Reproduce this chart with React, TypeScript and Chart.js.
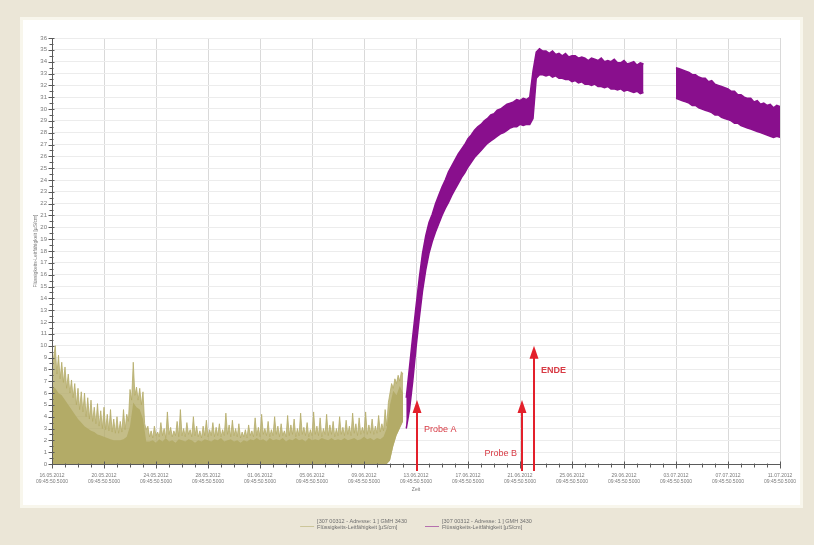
import React, { useEffect, useRef } from 'react';
import { Chart, registerables } from 'chart.js';

Chart.register(...registerables);

// ---- data -------------------------------------------------------------

// Major tick dates on the time axis (every 4 days, day 0 = 16.05.2012)
const X_TICK_DATES = [
  '16.05.2012', '20.05.2012', '24.05.2012', '28.05.2012', '01.06.2012',
  '05.06.2012', '09.06.2012', '13.06.2012', '17.06.2012', '21.06.2012',
  '25.06.2012', '29.06.2012', '03.07.2012', '07.07.2012', '11.07.2012',
];
const X_TICK_TIME = '09:45:50.5000';
const X_MAX_DAY = 56;
const Y_MAX = 36;

// First probe (olive): peaks of the noisy signal, every 3 h from day 0 to 27
const OLIVE_START = 0;
const OLIVE_UPPER_STEP = 0.125;
const OLIVE_UPPER = [
  8.0, 9.0, 10.0, 7.6, 9.2, 7.2, 8.6, 6.9, 8.2, 6.4,
  7.6, 6.0, 7.1, 5.6, 6.8, 5.0, 6.4, 4.6, 6.1, 4.4,
  6.0, 4.0, 5.6, 3.8, 5.4, 3.6, 4.8, 3.4, 5.1, 3.2,
  4.5, 3.0, 4.8, 2.9, 4.2, 2.8, 4.6, 2.7, 3.8, 2.6,
  4.0, 2.6, 3.6, 2.7, 4.6, 2.9, 4.2, 3.6, 6.3, 5.4,
  8.6, 5.8, 6.5, 5.4, 6.4, 5.0, 6.1, 3.4, 2.9,
  3.2, 2.3, 2.8, 2.2, 3.2, 2.4, 2.7, 2.3, 3.5, 2.4,
  3.0, 2.2, 4.4, 2.5, 3.1, 2.3, 2.8, 2.4, 3.6, 2.3,
  4.6, 2.4, 3.0, 2.3, 3.5, 2.5, 2.9, 2.3, 4.0, 2.4,
  3.2, 2.3, 2.8, 2.2, 3.2, 2.4, 3.7, 2.3, 2.9, 2.4,
  3.5, 2.3, 3.1, 2.4, 3.4, 2.3, 2.9, 2.4, 4.3, 2.5,
  3.3, 2.3, 3.7, 2.4, 3.0, 2.3, 3.4, 2.2, 2.7, 2.3,
  2.9, 2.2, 3.3, 2.4, 2.8, 2.3, 3.9, 2.4, 3.1, 2.3,
  4.2, 2.5, 3.0, 2.4, 3.6, 2.3, 2.9, 2.4, 4.0, 2.5,
  3.2, 2.3, 3.4, 2.4, 2.8, 2.3, 4.1, 2.4, 3.3, 2.5,
  3.8, 2.3, 3.0, 2.4, 4.3, 2.5, 3.1, 2.4, 3.5, 2.3,
  2.9, 2.4, 4.4, 2.5, 3.2, 2.4, 3.9, 2.3, 3.0, 2.5,
  4.2, 2.4, 3.3, 2.5, 3.6, 2.3, 3.0, 2.4, 4.0, 2.5,
  3.1, 2.4, 3.7, 2.5, 3.2, 2.4, 4.3, 2.6, 3.4, 2.4,
  3.9, 2.5, 3.1, 2.6, 4.4, 2.5, 3.3, 2.6, 3.8, 2.5,
  3.2, 2.6, 4.1, 2.7, 3.4, 2.8, 4.6, 3.2, 5.2, 6.0,
  6.8, 6.4, 7.2, 6.8, 7.5, 7.0, 7.8, 7.6,
];
// Dense core of the same signal, every 6 h
const OLIVE_CORE_STEP = 0.25;
const OLIVE_CORE = [
  6.6, 6.4, 6.0, 5.8, 5.4, 5.0, 4.6, 4.2, 3.8, 3.5,
  3.2, 3.0, 2.8, 2.7, 2.5, 2.4, 2.3, 2.2, 2.1, 2.0,
  2.0, 2.0, 2.1, 2.3, 3.2, 5.2, 4.8, 4.6, 3.8, 1.9,
  1.9, 2.0, 1.8, 2.1, 1.9, 2.2, 1.9, 2.0, 1.8, 2.1,
  2.0, 1.9, 2.1, 2.0, 1.8, 2.0, 1.9, 2.1, 2.0, 1.9,
  2.1, 2.0, 2.2, 1.9, 2.0, 2.1, 1.9, 2.0, 1.8, 2.0,
  1.9, 2.1, 2.0, 2.2, 2.0, 2.1, 1.9, 2.2, 2.0, 2.1,
  2.0, 2.2, 1.9, 2.1, 2.0, 2.2, 2.0, 2.1, 1.9, 2.2,
  2.0, 2.1, 2.0, 2.2, 2.1, 2.0, 2.2, 2.0, 2.1, 2.0,
  2.2, 2.0, 2.1, 2.2, 2.0, 2.1, 2.3, 2.1, 2.2, 2.0,
  2.2, 2.1, 2.3, 3.0, 5.0, 6.2, 5.8, 6.6, 6.0,
];
// Lower envelope (only lifts off zero at the very end)
const OLIVE_LOWER_DAYS = [0, 25.75, 26.0, 26.25, 26.5, 26.75, 27.0];
const OLIVE_LOWER = [0, 0, 0.3, 1.5, 2.4, 3.0, 3.6];

// Second probe (purple): every 6 h from day 27.25 to 56, null = no readings
const PURPLE_START = 27.25;
const PURPLE_STEP = 0.25;
const PURPLE_UPPER = [
  5.6, 8.2, 10.8, 13.3, 15.7, 17.8, 19.3, 20.4, 21.1, 22.0,
  22.7, 23.4, 24.0, 24.7, 25.2, 25.7, 26.2, 26.6, 27.0, 27.5,
  27.8, 28.2, 28.5, 28.7, 29.0, 29.2, 29.5, 29.6, 29.9, 30.0,
  30.2, 30.4, 30.5, 30.6, 30.8, 30.7, 30.9, 30.8, 31.0, 33.2,
  34.8, 35.1, 34.9, 34.9, 34.7, 34.9, 34.6, 34.7, 34.5, 34.7,
  34.4, 34.5, 34.5, 34.3, 34.4, 34.3, 34.1, 34.3, 34.2, 34.1,
  34.3, 34.0, 34.1, 34.0, 34.2, 33.9, 33.9, 34.1, 33.8, 33.9,
  34.0, 33.7, 33.9, 33.8,
  null, null, null, null, null, null, null, null, null,
  33.5, 33.4, 33.3, 33.2, 33.1, 32.9, 32.9, 32.7, 32.6, 32.6,
  32.3, 32.4, 32.1, 32.0, 31.9, 31.8, 31.7, 31.5, 31.5, 31.2,
  31.2, 31.0, 30.9, 30.9, 30.6, 30.7, 30.4, 30.5, 30.3, 30.4,
  30.1, 30.3, 30.2,
];
const PURPLE_LOWER = [
  3.0, 4.6, 7.0, 9.8, 12.3, 14.6, 16.4, 17.8, 18.8, 19.6,
  20.3, 21.0, 21.6, 22.1, 22.7, 23.2, 23.7, 24.2, 24.6, 25.1,
  25.5, 25.9, 26.2, 26.5, 26.8, 27.1, 27.3, 27.5, 27.7, 27.9,
  28.0, 28.2, 28.4, 28.5, 28.5, 28.7, 28.6, 28.7, 28.7, 29.2,
  32.6, 32.9, 32.9, 32.8, 32.9, 32.7, 32.8, 32.6, 32.6, 32.5,
  32.5, 32.3, 32.4, 32.2, 32.3, 32.1, 32.1, 32.0, 32.1, 31.9,
  31.9, 31.8, 31.9, 31.7, 31.7, 31.6, 31.7, 31.5, 31.6, 31.5,
  31.4, 31.5, 31.3, 31.4,
  null, null, null, null, null, null, null, null, null,
  30.9, 30.8, 30.7, 30.6, 30.5, 30.3, 30.3, 30.1, 30.0, 29.9,
  29.8, 29.7, 29.5, 29.5, 29.3, 29.2, 29.1, 29.0, 28.8, 28.8,
  28.6, 28.5, 28.4, 28.3, 28.2, 28.1, 28.0, 27.9, 27.8, 27.7,
  27.6, 27.7, 27.6,
];

// Sampling events marked with arrows
const MARKER_LABELS = ['Probe A', 'Probe B', 'ENDE'];
const MARKER_DAYS = [28.1, 36.15, 37.05];
const MARKER_TIPS = [5.4, 5.4, 10.0];

const SERIES_NAMES = [
  '[307 00312 - Adresse: 1 ] GMH 3430',
  '[307 00312 - Adresse: 1 ] GMH 3430',
];
const SERIES_UNIT = 'Flüssigkeits-Leitfähigkeit [µS/cm]';

// ---- styling ----------------------------------------------------------

const FONT = '"Liberation Sans", Arial, sans-serif';
const OLIVE = '#b3ab67';
const OLIVE_LIGHT = 'rgba(179,171,103,0.78)';
const PURPLE = '#890f8d';
const RED = '#e3202b';
const AXIS = '#5a5a5a';
const TEXT = '#7a7a7a';
const SERIES_COLORS = [OLIVE, PURPLE];

// label placement for each arrow: side of the shaft and height (axis units)
const MARKER_LAYOUT = [
  { side: 'right', level: 2.9, bold: false },
  { side: 'left', level: 0.9, bold: false },
  { side: 'right', level: 7.9, bold: true },
];

const toPoints = (start: number, step: number, values: (number | null)[]) =>
  values.map((v, i) => ({ x: start + i * step, y: v }));

// ---- plugins ----------------------------------------------------------

const framePlugin = {
  id: 'frame',
  beforeDraw(chart: any) {
    const { ctx, width, height } = chart;
    ctx.save();
    ctx.fillStyle = '#ebe6d7';
    ctx.fillRect(0, 0, width, height);
    ctx.fillStyle = '#f8f6ec';
    ctx.fillRect(20, 17, 783, 491);
    ctx.fillStyle = '#ffffff';
    ctx.fillRect(23, 20, 777, 485);
    ctx.restore();
  },
};

const axesPlugin = {
  id: 'axesMarks',
  afterDatasetsDraw(chart: any) {
    const { ctx } = chart;
    const x = chart.scales.x;
    const y = chart.scales.y;
    ctx.save();
    ctx.strokeStyle = AXIS;
    ctx.lineWidth = 1;
    ctx.beginPath();
    const yb = Math.round(y.bottom) + 0.5;
    const xl = Math.round(x.left) + 0.5;
    ctx.moveTo(xl, Math.round(y.top));
    ctx.lineTo(xl, yb);
    ctx.lineTo(Math.round(x.right) + 1, yb);
    for (let d = 0; d <= X_MAX_DAY; d += 1) {
      const px = Math.round(x.getPixelForValue(d)) + 0.5;
      const major = d % 4 === 0;
      ctx.moveTo(px, yb - (major ? 3 : 1));
      ctx.lineTo(px, yb + (major ? 4 : 3));
    }
    for (let v = 0; v <= Y_MAX; v += 0.5) {
      const py = Math.round(y.getPixelForValue(v)) + 0.5;
      const major = v % 1 === 0;
      ctx.moveTo(xl - (major ? 4 : 3), py);
      ctx.lineTo(xl + (major ? 2 : 1), py);
    }
    ctx.stroke();
    ctx.restore();
  },
};

const markersPlugin = {
  id: 'markers',
  afterDatasetsDraw(chart: any) {
    const { ctx } = chart;
    const x = chart.scales.x;
    const y = chart.scales.y;
    ctx.save();
    MARKER_DAYS.forEach((day, i) => {
      const px = Math.round(x.getPixelForValue(day));
      const tip = y.getPixelForValue(MARKER_TIPS[i]);
      const base = y.bottom + 7;
      ctx.strokeStyle = RED;
      ctx.lineWidth = 2;
      ctx.beginPath();
      ctx.moveTo(px, base);
      ctx.lineTo(px, tip + 10);
      ctx.stroke();
      ctx.fillStyle = RED;
      ctx.beginPath();
      ctx.moveTo(px, tip);
      ctx.lineTo(px + 4.5, tip + 13);
      ctx.lineTo(px - 4.5, tip + 13);
      ctx.closePath();
      ctx.fill();
      const lay = MARKER_LAYOUT[i];
      ctx.fillStyle = '#d83a44';
      ctx.font = `${lay.bold ? 'bold ' : ''}9px ${FONT}`;
      ctx.textBaseline = 'middle';
      ctx.textAlign = lay.side === 'right' ? 'left' : 'right';
      const tx = lay.side === 'right' ? px + 7 : px - 5;
      ctx.fillText(MARKER_LABELS[i], tx, y.getPixelForValue(lay.level));
    });
    ctx.restore();
  },
};

const legendPlugin = {
  id: 'seriesLegend',
  afterDraw(chart: any) {
    const { ctx } = chart;
    const area = chart.chartArea;
    ctx.save();
    ctx.font = `5.5px ${FONT}`;
    const lineLen = 14;
    const gapText = 3;
    const gapItem = 18;
    const widths = SERIES_NAMES.map((n) =>
      Math.max(ctx.measureText(n).width, ctx.measureText(SERIES_UNIT).width)
    );
    const total =
      widths.reduce((a, w) => a + lineLen + gapText + w, 0) + gapItem * (widths.length - 1);
    let cx = (area.left + area.right) / 2 - total / 2;
    const top = 521;
    SERIES_NAMES.forEach((name, i) => {
      ctx.strokeStyle = SERIES_COLORS[i];
      ctx.globalAlpha = 0.55;
      ctx.lineWidth = 1;
      ctx.beginPath();
      ctx.moveTo(cx, top + 5.5);
      ctx.lineTo(cx + lineLen, top + 5.5);
      ctx.stroke();
      ctx.globalAlpha = 1;
      ctx.fillStyle = '#6e6e6e';
      ctx.textAlign = 'left';
      ctx.textBaseline = 'middle';
      ctx.fillText(name, cx + lineLen + gapText, top);
      ctx.fillText(SERIES_UNIT, cx + lineLen + gapText, top + 6.5);
      cx += lineLen + gapText + widths[i] + gapItem;
    });
    ctx.restore();
  },
};

// ---- component --------------------------------------------------------

export default function App() {
  const canvasRef = useRef<HTMLCanvasElement | null>(null);

  useEffect(() => {
    const canvas = canvasRef.current;
    if (!canvas) return;

    const oliveLower = OLIVE_LOWER_DAYS.map((d, i) => ({ x: d, y: OLIVE_LOWER[i] }));

    const chart = new Chart(canvas, {
      type: 'line',
      data: {
        datasets: [
          {
            label: 'core',
            data: toPoints(OLIVE_START, OLIVE_CORE_STEP, OLIVE_CORE),
            borderColor: OLIVE,
            borderWidth: 0,
            backgroundColor: OLIVE,
            fill: 2,
          },
          {
            label: SERIES_NAMES[0],
            data: toPoints(OLIVE_START, OLIVE_UPPER_STEP, OLIVE_UPPER),
            borderColor: OLIVE_LIGHT,
            borderWidth: 1,
            backgroundColor: OLIVE_LIGHT,
            fill: 2,
          },
          {
            label: 'lower',
            data: oliveLower,
            borderColor: OLIVE,
            borderWidth: 0,
            fill: false,
          },
          {
            label: SERIES_NAMES[1],
            data: toPoints(PURPLE_START, PURPLE_STEP, PURPLE_UPPER),
            borderColor: PURPLE,
            borderWidth: 1.5,
            backgroundColor: PURPLE,
            fill: 4,
            spanGaps: false,
          },
          {
            label: 'lower',
            data: toPoints(PURPLE_START, PURPLE_STEP, PURPLE_LOWER),
            borderColor: PURPLE,
            borderWidth: 1.5,
            fill: false,
            spanGaps: false,
          },
        ],
      },
      options: {
        responsive: false,
        animation: false,
        events: [],
        layout: { padding: { top: 38, right: 34, bottom: 45, left: 0 } },
        elements: { point: { radius: 0 }, line: { tension: 0 } },
        plugins: {
          legend: { display: false },
          tooltip: { enabled: false },
        },
        scales: {
          x: {
            type: 'linear',
            min: 0,
            max: X_MAX_DAY,
            afterFit: (s: any) => {
              s.height = 36;
            },
            ticks: {
              stepSize: 1,
              autoSkip: false,
              maxRotation: 0,
              minRotation: 0,
              padding: 9,
              color: TEXT,
              font: { family: FONT, size: 5, lineHeight: 1.2 },
              callback: (v: any) => {
                const n = Number(v);
                return n % 4 === 0 ? [X_TICK_DATES[n / 4], X_TICK_TIME] : '';
              },
            },
            grid: {
              drawTicks: false,
              color: (c: any) =>
                c.tick && c.tick.value % 4 === 0 && c.tick.value > 0 ? '#d9d9d9' : 'rgba(0,0,0,0)',
            },
            border: { display: false },
            title: {
              display: true,
              text: 'Zeit',
              color: TEXT,
              font: { family: FONT, size: 5 },
              padding: { top: 0, bottom: 7 },
            },
          },
          y: {
            min: 0,
            max: Y_MAX,
            afterFit: (s: any) => {
              s.width = 52;
            },
            ticks: {
              stepSize: 1,
              padding: 5,
              color: TEXT,
              font: { family: FONT, size: 6 },
            },
            grid: { drawTicks: false, color: '#ececec' },
            border: { display: false },
            title: {
              display: true,
              text: SERIES_UNIT,
              color: TEXT,
              font: { family: FONT, size: 5 },
              padding: { top: 33, bottom: 0 },
            },
          },
        },
      },
      plugins: [framePlugin, axesPlugin, markersPlugin, legendPlugin],
    } as any);

    return () => chart.destroy();
  }, []);

  return (
    <div style={{ position: 'fixed', left: 0, top: 0, width: 814, height: 545 }}>
      <canvas ref={canvasRef} width={814} height={545} style={{ display: 'block' }} />
    </div>
  );
}
